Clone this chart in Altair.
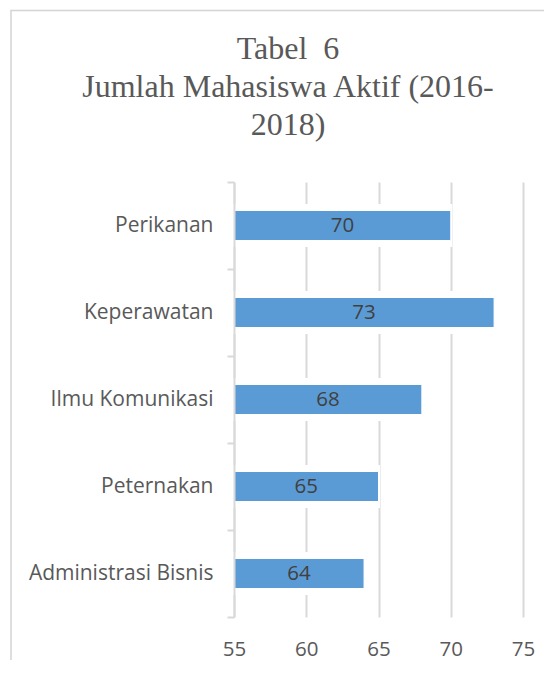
import altair as alt
import pandas as pd

# ---- data ----
categories = ["Perikanan", "Keperawatan", "Ilmu Komunikasi", "Peternakan", "Administrasi Bisnis"]
values = [70, 73, 68, 65, 64]
x_ticks = [55, 60, 65, 70, 75]
axis_min = 55
axis_max = 75
title_lines = ["Tabel \u00a06", "Jumlah Mahasiswa Aktif (2016-", "2018)"]

df = pd.DataFrame({"prodi": categories, "jumlah": values})
df["base"] = axis_min
df["mid"] = (df["base"] + df["jumlah"]) / 2

PLOT_W = 289
PLOT_H = 435
LABEL_FONT = "Open Sans"
GRAY = "#d9d9d9"
TEXT = "#595959"

x_scale = alt.Scale(domain=[axis_min, axis_max], nice=False, zero=False)
y_scale = alt.Scale(paddingInner=0, paddingOuter=0)

base = alt.Chart(df)

x_axis = alt.Axis(
    values=x_ticks, title=None, grid=True, gridColor=GRAY, gridWidth=2,
    domain=False, ticks=False, labelFont=LABEL_FONT, labelFontSize=20.5,
    labelColor=TEXT, labelPadding=22, labelFlush=False, labelOverlap=False,
    zindex=0,
)
y_axis = alt.Axis(
    title=None, tickBand="extent", domain=True, domainColor=GRAY, domainWidth=2,
    ticks=True, tickColor=GRAY, tickWidth=2, tickSize=7, grid=False,
    labelFont=LABEL_FONT, labelFontSize=21, labelColor=TEXT, labelPadding=14,
    labelLimit=300, zindex=1,
)

halo = base.mark_bar(color="white", size=40, stroke="white", strokeWidth=3).encode(
    x=alt.X("base:Q", scale=x_scale, axis=x_axis),
    x2="jumlah:Q",
    y=alt.Y("prodi:N", sort=categories, scale=y_scale, axis=y_axis),
)

bars = base.mark_bar(color="#5B9BD5", size=30, stroke="white", strokeWidth=1).encode(
    x=alt.X("base:Q", scale=x_scale),
    x2="jumlah:Q",
    y=alt.Y("prodi:N", sort=categories, scale=y_scale),
)

labels = base.mark_text(font=LABEL_FONT, fontSize=20.5, color="#404040", baseline="middle").encode(
    x=alt.X("mid:Q", scale=x_scale),
    y=alt.Y("prodi:N", sort=categories, scale=y_scale),
    text="jumlah:Q",
)

title = alt.Chart(pd.DataFrame({"k": [0]})).mark_text(
    text=title_lines, font="Liberation Serif", fontSize=32, color=TEXT,
    align="center", baseline="alphabetic", lineHeight=38,
).encode(x=alt.value(54), y=alt.value(-123))

frame = alt.Chart(pd.DataFrame({"k": [0]})).mark_rect(
    fill="transparent", stroke="#d4d4d4", strokeWidth=1.5,
).encode(x=alt.value(-223), y=alt.value(-171.5), x2=alt.value(600), y2=alt.value(700))

chart = alt.layer(frame, halo, bars, labels, title).properties(
    width=PLOT_W, height=PLOT_H,
    autosize=alt.AutoSizeParams(type="none"),
    padding={"left": 226, "top": 174, "right": 21, "bottom": 43},
).configure_view(stroke=None)

chart.save("out.html", embed_options={"renderer": "svg", "actions": False})
